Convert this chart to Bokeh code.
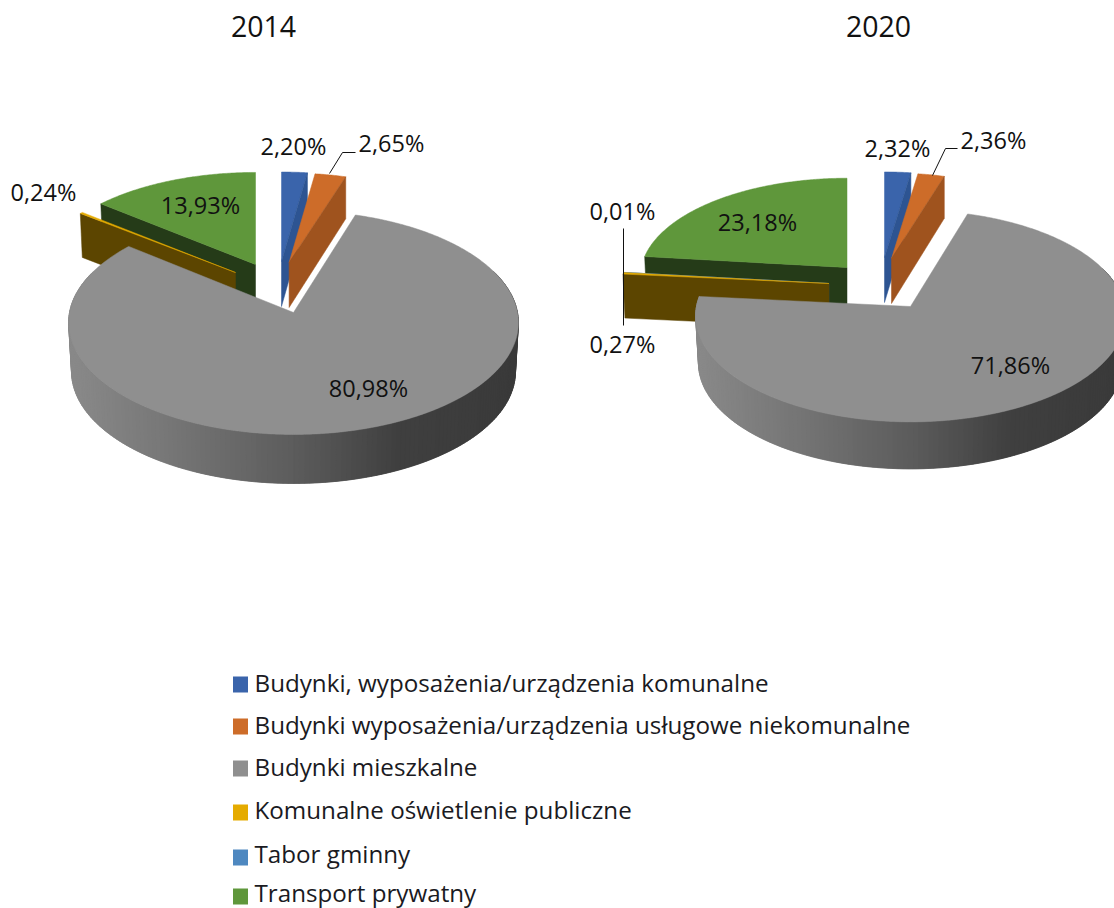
import math
from bokeh.plotting import figure
from bokeh.models import Range1d, ColumnDataSource
from bokeh.core.properties import value
from bokeh.embed import file_html
from bokeh.resources import INLINE

# ---------- data ----------
categories = ["Budynki, wyposażenia/urządzenia komunalne",
              "Budynki wyposażenia/urządzenia usługowe niekomunalne",
              "Budynki mieszkalne",
              "Komunalne oświetlenie publiczne",
              "Tabor gminny",
              "Transport prywatny"]
years = ["2014", "2020"]
values_2014 = [2.20, 2.65, 80.98, 0.24, 0.0, 13.93]
values_2020 = [2.32, 2.36, 71.86, 0.27, 0.01, 23.18]

# ---------- styles ----------
TOP = ["#3A64AB", "#CD6C29", "#8F8F8F", "#E5AB00", "#4E88C0", "#5F973B"]
FACE = ["#2D5492", "#9F531E", "#8F8F8F", "#5C4500", "#2B4A6B", "#253B18"]
K = 0.09
LABEL_FONT = "Open Sans"
LEGEND_FONT = "Open Sans"

# layout per chart: apex of each slice (x, y, explosion term, scale), radii, wall depth
LAYOUT = {
    "2014": dict(values=values_2014, rx=224, ry=111, depth=49, title_x=263,
                 apex=[(281, 261, .46, .95), (288.6, 262, .46, .95), (293, 312, 0, 1),
                       (235, 272, .6, .99), (235, 272, .6, .99), (255, 264, .6, 1)],
                 pos=[(293, 145), (391, 142), (368, 387), (43, 191), None, (200, 204)]),
    "2020": dict(values=values_2020, rx=214, ry=105, depth=47, title_x=878,
                 apex=[(884, 257, .46, .96), (891, 258, .46, .96), (910, 306, 0, 1),
                       (828.5, 283, .45, 1.015), (828.5, 283, .45, 1.015), (846.5, 267, .45, 1)],
                 pos=[(897, 147), (993, 139), (1010, 364), (622, 343), (622, 210), (757, 221)]),
}
LEADERS = [([329, 342, 355], [173, 152, 152]),
           ([932, 945, 957], [175, 148, 148]),
           ([623, 623], [228, 325])]
SWATCH_ROWS = [684, 726, 768, 812, 857, 896]
LEGEND_ROWS = [682, 724, 766, 809, 853, 892]


def lerp_grey(t):
    stops = [(-1.0, 0x8A), (-0.5, 0x74), (0.0, 0x5C), (0.45, 0x40), (1.0, 0x3A)]
    for (a, ca), (b, cb) in zip(stops, stops[1:]):
        if t <= b:
            c = int(ca + (cb - ca) * (max(t, a) - a) / (b - a))
            return f"#{c:02x}{c:02x}{c:02x}"
    return "#3a3a3a"


def rim(deg, apex, rx, ry):
    ax, ay, e, s = apex
    th = math.radians(deg)
    u, v = math.sin(th), math.cos(th)
    w = 1 + K * (v + e)
    x = ax + s * rx * u / w
    y = ay - s * ry * ((v + e) / w - e / (1 + K * e))
    return x, y


xs, ys, fills, lines = [], [], [], []


def poly(px, py, fill, line=None):
    xs.append(list(px)); ys.append(list(py)); fills.append(fill); lines.append(line or fill)


def sector(year):
    cfg = LAYOUT[year]
    vals = cfg["values"]
    rx, ry, depth = cfg["rx"], cfg["ry"], cfg["depth"]
    edges = [0.0]
    for v in vals:
        edges.append(edges[-1] + v * 3.6)

    def arc(i, step=0.5):
        a, b = edges[i], edges[i + 1]
        m = max(2, int((b - a) / step) + 1)
        return [rim(a + (b - a) * j / (m - 1), cfg["apex"][i], rx, ry) for j in range(m)]

    # green and amber: slices on the left, with their lower cut face showing
    for i in (5, 4, 3):
        if vals[i] <= 0:
            continue
        pts = arc(i)
        ax, ay = cfg["apex"][i][:2]
        x0, y0 = pts[0]
        poly([x0 + 2, ax, ax, x0], [y0 + 44, ay + 44, ay, y0], FACE[i])
        poly([ax] + [p[0] for p in pts], [ay] + [p[1] for p in pts], TOP[i])
    # blue and orange: right cut face showing
    for i in (0, 1):
        pts = arc(i)
        ax, ay = cfg["apex"][i][:2]
        poly([ax] + [p[0] for p in pts], [ay] + [p[1] for p in pts], TOP[i])
        x1, y1 = pts[-1]
        poly([ax, x1, x1, ax], [ay, y1, y1 + 42, ay + 45], FACE[i])
    # grey: wall in overlapping strips, then the top surface
    i = 2
    apex = cfg["apex"][i]
    cx = apex[0]
    lower = (apex[0], apex[1], apex[2], 0.987)
    a, b = edges[i], edges[i + 1]
    deg = a
    while deg < b:
        d2 = min(deg + 2.5, b)
        if math.cos(math.radians(deg)) < 0.35 or math.cos(math.radians(d2)) < 0.35:
            qa = [rim(deg, apex, rx, ry), rim(d2, apex, rx, ry)]
            qb = [rim(d2, lower, rx, ry / 0.987), rim(deg, lower, rx, ry / 0.987)]
            px = [qa[0][0], qa[1][0], qb[0][0], qb[1][0]]
            py = [qa[0][1], qa[1][1], qb[0][1] + depth, qb[1][1] + depth]
            poly(px, py, lerp_grey((sum(px) / 4 - cx) / rx))
        deg += 1.25
    pts = arc(i)
    ax, ay = apex[:2]
    poly([ax] + [p[0] for p in pts], [ay] + [p[1] for p in pts], TOP[i])


for yr in years:
    sector(yr)

p = figure(width=1114, height=908, x_range=Range1d(0, 1114), y_range=Range1d(908, 0),
           output_backend="svg", toolbar_location=None, min_border=0)
p.axis.visible = False
p.grid.visible = False
p.outline_line_color = None
p.background_fill_color = "white"

p.patches("xs", "ys", fill_color="fill", line_color="line", line_width=0.5,
          source=ColumnDataSource(dict(xs=xs, ys=ys, fill=fills, line=lines)))

for lx, ly in LEADERS:
    p.line(lx, ly, line_color="#111111", line_width=1)

# pie labels
tx, ty, tt = [], [], []
for yr in years:
    cfg = LAYOUT[yr]
    for v, pos in zip(cfg["values"], cfg["pos"]):
        if pos is not None:
            tx.append(pos[0]); ty.append(pos[1]); tt.append(f"{v:.2f}".replace(".", ",") + "%")
p.text(tx, ty, text=tt, text_font=value(LABEL_FONT), text_font_size="23.5px", text_color="#111111",
       text_align="center", text_baseline="middle")
p.text([LAYOUT[y]["title_x"] for y in years], [26, 26], text=years, text_font=value(LABEL_FONT),
       text_font_size="28.5px", text_color="#111111", text_align="center", text_baseline="middle")

# legend
p.rect([240] * 6, SWATCH_ROWS, width=15, height=16, fill_color=TOP, line_color=None)
p.text([254] * 6, LEGEND_ROWS, text=categories, text_font=value(LEGEND_FONT), text_font_size="24.2px",
       text_color="#1a1a22", text_align="left", text_baseline="middle")

open("out.html", "w").write(file_html(p, INLINE))
